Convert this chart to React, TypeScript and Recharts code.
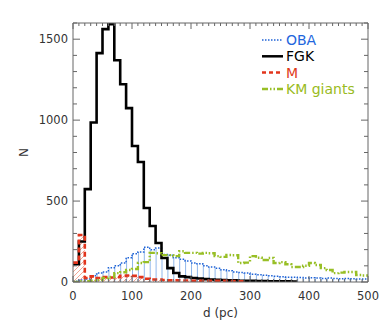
import React from 'react';
import { ComposedChart, Line, Area, XAxis, YAxis } from 'recharts';

// bin edges (pc), 10 pc wide bins
const binEdges = [
  0, 10, 20, 30, 40, 50, 60, 70, 80, 90,
  100, 110, 120, 130, 140, 150, 160, 170, 180, 190,
  200, 210, 220, 230, 240, 250, 260, 270, 280, 290,
  300, 310, 320, 330, 340, 350, 360, 370, 380, 390,
  400, 410, 420, 430, 440, 450, 460, 470, 480, 490, 500,
];

const obaCounts = [
  5, 12, 18, 38, 55, 62, 88, 100, 117, 150,
  175, 185, 215, 200, 210, 170, 165, 150, 140, 130,
  118, 112, 100, 92, 85, 75, 70, 62, 58, 55,
  48, 45, 42, 38, 36, 33, 30, 30, 28, 25,
  27, 25, 22, 24, 22, 20, 22, 20, 18, 18,
];

const fgkCounts = [
  110, 250, 574, 985, 1414, 1562, 1593, 1370, 1222, 1074,
  840, 741, 457, 346, 241, 148, 86, 56, 35, 30,
  25, 22, 18, 15, 14, 12, 10, 10, 8, 8,
  7, 6, 6, 5, 5, 4, 4, 3, null, null,
  null, null, null, null, null, null, null, null, null, null,
];

const mCounts = [
  120, 290, 25, 35, 25, 30, 28, 30, 38, 40,
  38, 30, 20, 15, 15, 12, 10, 10, 9, 9,
  8, 8, 8, 8, 7, 7, 6, 6, 5, null,
  null, null, null, null, null, null, null, null, null, null,
  null, null, null, null, null, null, null, null, null, null,
];

const kmCounts = [
  0, 5, 5, 8, 12, 25, 31, 55, 60, 74,
  80, 117, 123, 180, 178, 166, 166, 160, 190, 180,
  180, 175, 180, 178, 160, 155, 167, 165, 117, 120,
  160, 150, 136, 148, 117, 123, 110, 93, 93, 100,
  117, 105, 86, 74, 55, 58, 62, 62, 43, 40,
];

const seriesNames = ['OBA', 'FGK', 'M', 'KM giants'];
const xMajorTicks = [0, 100, 200, 300, 400, 500];
const yMajorTicks = [0, 500, 1000, 1500];

const X_MIN = 0, X_MAX = 500, Y_MIN = 0, Y_MAX = 1600;
const xAllTicks: number[] = [];
for (let v = X_MIN; v <= X_MAX; v += 10) xAllTicks.push(v);
const yAllTicks: number[] = [];
for (let v = Y_MIN; v <= Y_MAX; v += 100) yAllTicks.push(v);

const valAt = (arr: (number | null)[], i: number) => {
  if (i < arr.length && arr[i] != null) return arr[i];
  if (i > 0 && i - 1 < arr.length) return arr[i - 1];
  return null;
};

const data = binEdges.map((d, i) => ({
  d,
  oba: valAt(obaCounts, i),
  fgk: valAt(fgkCounts, i),
  m: valAt(mCounts, i),
  km: valAt(kmCounts, i),
}));

const COLORS = {
  oba: '#1f63d6',
  obaHatch: '#8fb6ea',
  fgk: '#000000',
  m: '#e2341c',
  mHatch: '#f3a694',
  km: '#98bf26',
  axis: '#666666',
  text: '#333333',
};

const FONT = '"DejaVu Sans", sans-serif';

const isMajorX = (v: number) => xMajorTicks.includes(v);
const isMajorY = (v: number) => yMajorTicks.includes(v);

const BottomTick = (props: any) => {
  const { x, y, payload } = props;
  const major = isMajorX(payload.value);
  return (
    <g>
      <line x1={x} x2={x} y1={y} y2={y - (major ? 6 : 3)} stroke={COLORS.axis} strokeWidth={1} />
      {major && (
        <text x={x} y={y + 18} textAnchor="middle" fontSize={11.5} fontFamily={FONT} fill={COLORS.text}>
          {payload.value}
        </text>
      )}
    </g>
  );
};

const TopTick = (props: any) => {
  const { x, y, payload } = props;
  const major = isMajorX(payload.value);
  return <line x1={x} x2={x} y1={y} y2={y + (major ? 6 : 3)} stroke={COLORS.axis} strokeWidth={1} />;
};

const LeftTick = (props: any) => {
  const { x, y, payload } = props;
  const major = isMajorY(payload.value);
  return (
    <g>
      <line x1={x} x2={x + (major ? 7 : 4)} y1={y} y2={y} stroke={COLORS.axis} strokeWidth={1} />
      {major && (
        <text x={x - 5} y={y + 4} textAnchor="end" fontSize={11.5} fontFamily={FONT} fill={COLORS.text}>
          {payload.value}
        </text>
      )}
    </g>
  );
};

const RightTick = (props: any) => {
  const { x, y, payload } = props;
  const major = isMajorY(payload.value);
  return <line x1={x} x2={x - (major ? 7 : 4)} y1={y} y2={y} stroke={COLORS.axis} strokeWidth={1} />;
};

const legendStyles = [
  { color: COLORS.oba, text: '#2266dd', width: 1.5, dash: '1.5 1.5' },
  { color: COLORS.fgk, text: '#000000', width: 2.5, dash: undefined },
  { color: COLORS.m, text: '#e03a1a', width: 2.5, dash: '4 3' },
  { color: COLORS.km, text: '#99bb22', width: 2.5, dash: '6 2 1.5 2 1.5 2' },
];

const LegendBox = () => (
  <svg width={125} height={66} style={{ position: 'absolute', left: 258, top: 31 }}>
    {seriesNames.map((name, i) => {
      const s = legendStyles[i];
      const y = 9 + 16.3 * i;
      return (
        <g key={name}>
          <line x1={4} x2={25} y1={y} y2={y} stroke={s.color} strokeWidth={s.width} strokeDasharray={s.dash} />
          <text x={28} y={y + 5} fontSize={14} fontFamily={FONT} fill={s.text}>
            {name}
          </text>
        </g>
      );
    })}
  </svg>
);

export default function App() {
  return (
    <div style={{ position: 'absolute', left: 0, top: 0, width: 390, height: 329, background: '#fff' }}>
      <ComposedChart
        width={390}
        height={329}
        data={data}
        margin={{ top: 22, right: 21, bottom: 17, left: 0 }}
      >
        <defs>
          <pattern id="vhatch" width={5.9} height={10} patternUnits="userSpaceOnUse" patternTransform="translate(73,0)">
            <line x1={0.5} x2={0.5} y1={0} y2={10} stroke={COLORS.obaHatch} strokeWidth={1} />
          </pattern>
          <pattern id="dhatch" width={5} height={5} patternUnits="userSpaceOnUse">
            <path d="M-1,6 L6,-1" stroke={COLORS.mHatch} strokeWidth={1} />
          </pattern>
        </defs>
        <XAxis
          dataKey="d"
          type="number"
          domain={[X_MIN, X_MAX]}
          ticks={xAllTicks}
          interval={0}
          allowDataOverflow
          height={30}
          tickSize={0}
          tickMargin={0}
          tickLine={false}
          axisLine={{ stroke: COLORS.axis }}
          tick={<BottomTick />}
          label={{
            content: (p: any) => {
              const vb = p.viewBox;
              return (
                <text x={vb.x + vb.width / 2} y={vb.y + 35} textAnchor="middle" fontSize={12} fontFamily={FONT} fill={COLORS.text}>
                  d (pc)
                </text>
              );
            },
          }}
        />
        <XAxis
          xAxisId="top"
          orientation="top"
          dataKey="d"
          type="number"
          domain={[X_MIN, X_MAX]}
          ticks={xAllTicks}
          interval={0}
          allowDataOverflow
          height={1}
          tickSize={0}
          tickMargin={0}
          tickLine={false}
          axisLine={{ stroke: COLORS.axis }}
          tick={<TopTick />}
        />
        <YAxis
          type="number"
          domain={[Y_MIN, Y_MAX]}
          ticks={yAllTicks}
          interval={0}
          allowDataOverflow
          width={73}
          tickSize={0}
          tickMargin={0}
          tickLine={false}
          axisLine={{ stroke: COLORS.axis }}
          tick={<LeftTick />}
          label={{
            content: (p: any) => {
              const vb = p.viewBox;
              const cx = vb.x + 24;
              const cy = vb.y + vb.height / 2;
              return (
                <text x={cx} y={cy} transform={`rotate(-90 ${cx} ${cy})`} textAnchor="middle" dominantBaseline="central" fontSize={12} fontFamily={FONT} fill={COLORS.text}>
                  N
                </text>
              );
            },
          }}
        />
        <YAxis
          yAxisId="right"
          orientation="right"
          type="number"
          domain={[Y_MIN, Y_MAX]}
          ticks={yAllTicks}
          interval={0}
          allowDataOverflow
          width={1}
          tickSize={0}
          tickMargin={0}
          tickLine={false}
          axisLine={{ stroke: COLORS.axis }}
          tick={<RightTick />}
        />
        <Area
          type="stepAfter"
          dataKey="oba"
          stroke="none"
          fill="url(#vhatch)"
          fillOpacity={1}
          isAnimationActive={false}
          legendType="none"
        />
        <Area
          type="stepAfter"
          dataKey="m"
          stroke="none"
          fill="url(#dhatch)"
          fillOpacity={1}
          isAnimationActive={false}
          legendType="none"
        />
        <Line
          type="stepAfter"
          dataKey="oba"
          name="OBA"
          stroke={COLORS.oba}
          strokeWidth={1.5}
          strokeDasharray="1.5 1.5"
          dot={false}
          isAnimationActive={false}
        />
        <Line
          type="stepAfter"
          dataKey="fgk"
          name="FGK"
          stroke={COLORS.fgk}
          strokeWidth={2.6}
          dot={false}
          isAnimationActive={false}
        />
        <Line
          type="stepAfter"
          dataKey="m"
          name="M"
          stroke={COLORS.m}
          strokeWidth={2.6}
          strokeDasharray="5 3"
          dot={false}
          isAnimationActive={false}
        />
        <Line
          type="stepAfter"
          dataKey="km"
          name="KM giants"
          stroke={COLORS.km}
          strokeWidth={2.4}
          strokeDasharray="6 2 1.5 2 1.5 2"
          dot={false}
          isAnimationActive={false}
        />
        {/* invisible series that binds the mirrored top/right frame axes */}
        <Line
          xAxisId="top"
          yAxisId="right"
          type="stepAfter"
          dataKey="fgk"
          stroke="none"
          dot={false}
          activeDot={false}
          legendType="none"
          isAnimationActive={false}
        />
      </ComposedChart>
      <LegendBox />
    </div>
  );
}
